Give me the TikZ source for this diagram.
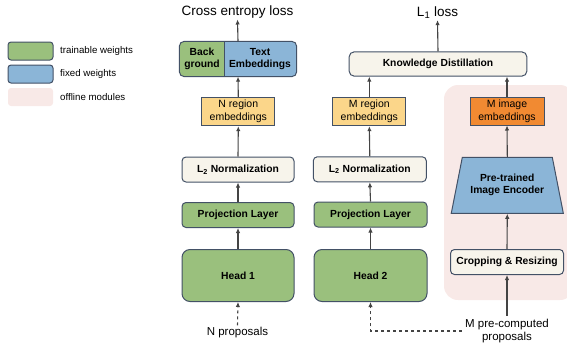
\documentclass[tikz,border=0pt]{standalone}
\usepackage{fontspec}
\setmainfont{Liberation Sans}
\usetikzlibrary{arrows.meta,shapes.geometric,fit,backgrounds}

\definecolor{traingreen}{HTML}{9AC07D}
\definecolor{fixedblue}{HTML}{8BB5D7}
\definecolor{offpink}{HTML}{F8E9E7}
\definecolor{embyellow}{HTML}{FBD68A}
\definecolor{imgorange}{HTML}{F18A32}
\definecolor{normcream}{HTML}{F7F4EB}
\definecolor{edgegray}{HTML}{435166}
\definecolor{linegray}{HTML}{444444}

\begin{document}
\begin{tikzpicture}[x=1pt,y=-1pt,
        box/.style={draw=edgegray, line width=1pt, align=center, inner sep=1pt,
            font=\fontsize{10.3}{12}\selectfont\bfseries},
        embbox/.style={box, minimum width=73pt, minimum height=28.4pt,
            font=\fontsize{10.5}{13}\selectfont},
        arr/.style={-{Latex[length=5pt,width=4.5pt]}, draw=linegray, line width=1.1pt},
        losstext/.style={font=\fontsize{13.5}{15}\selectfont, inner sep=1pt},
        proptext/.style={font=\fontsize{11.5}{13}\selectfont, align=center, inner sep=2pt},
        legtext/.style={font=\fontsize{9.7}{11}\selectfont, anchor=west, inner sep=0pt}]
    \useasboundingbox (0,0) rectangle (567,343);

    % leyenda
    \node[box, fill=traingreen, rounded corners=3pt, minimum width=45pt, minimum height=18pt] (legtrain) at (30.5,51) {};
    \node[box, fill=fixedblue, rounded corners=3pt, minimum width=45pt, minimum height=18pt] (legfixed) at (30.5,74) {};
    \node[fill=offpink, rounded corners=3pt, minimum width=45pt, minimum height=18pt] (legoff) at (30.5,97) {};
    \node[legtext] (legtraintxt) at (60,51) {trainable weights};
    \node[legtext] (legfixedtxt) at (60,74) {fixed weights};
    \node[legtext] (legofftxt) at (60,97) {offline modules};

    % zona offline
    \begin{scope}[on background layer]
        \fill[offpink, rounded corners=14pt] (444,85) rectangle (574,300);
    \end{scope}

    % rama 1
    \node[losstext] (celoss) at (237.5,12) {Cross entropy loss};
    \node[box, draw=none, minimum width=44pt, minimum height=34pt] (bg) at (202,59) {Back\\ground};
    \node[box, draw=none, minimum width=72pt, minimum height=34pt] (te) at (260,59) {Text\\Embeddings};
    \node[fit=(bg)(te), inner sep=0pt] (cls) {};
    \begin{scope}[on background layer]
        \clip[rounded corners=5pt] (cls.north west) rectangle (cls.south east);
        \fill[traingreen] (bg.north west) rectangle (bg.south east);
        \fill[fixedblue] (te.north west) rectangle (te.south east);
    \end{scope}
    \draw[edgegray, line width=1pt, rounded corners=5pt] (cls.north west) rectangle (cls.south east);
    \draw[edgegray, line width=1pt] (bg.north east) -- (bg.south east);

    \node[embbox, fill=embyellow] (nreg) at (238.3,111.5) {N region\\embeddings};
    \node[box, fill=normcream, rounded corners=4pt, minimum width=112pt, minimum height=25pt] (norm1) at (238,169.5) {L\textsubscript{2} Normalization};
    \node[box, fill=traingreen, rounded corners=4pt, minimum width=112pt, minimum height=25pt] (proj1) at (238,215) {Projection Layer};
    \node[box, fill=traingreen, rounded corners=8pt, minimum width=112pt, minimum height=52pt] (head1) at (238,275.5) {Head 1};
    \node[proptext] (nprop) at (237.5,333) {N proposals};

    \draw[arr] (cls.north) -- (celoss.south);
    \draw[arr] (nreg.north) -- (cls.south);
    \draw[arr] (norm1.north) -- (nreg.south);
    \draw[arr] (proj1.north) -- (norm1.south);
    \draw[arr] (head1.north) -- (proj1.south);
    \draw[arr, dashed] (nprop.north) -- (head1.south);

    % rama 2
    \node[losstext] (lloss) at (437.5,13) {L\textsubscript{1} loss};
    \node[box, fill=normcream, rounded corners=5pt, minimum width=177.7pt, minimum height=24.3pt] (kd) at (438,64) {Knowledge Distillation};
    \node[embbox, fill=embyellow] (mreg) at (369.3,111.5) {M region\\embeddings};
    \node[box, fill=normcream, rounded corners=4pt, minimum width=113pt, minimum height=25pt] (norm2) at (369.8,169.3) {L\textsubscript{2} Normalization};
    \node[box, fill=traingreen, rounded corners=4pt, minimum width=113pt, minimum height=25pt] (proj2) at (370.5,214.5) {Projection Layer};
    \node[box, fill=traingreen, rounded corners=8pt, minimum width=113pt, minimum height=52pt] (head2) at (370.5,275.5) {Head 2};

    \draw[arr] (kd.north) -- (lloss.south);
    \draw[arr] (mreg.north) -- (mreg.north |- kd.south);
    \draw[arr] (norm2.north) -- (mreg.south);
    \draw[arr] (proj2.north) -- (norm2.south);
    \draw[arr] (head2.north) -- (proj2.south);

    % modulos offline
    \node[embbox, fill=imgorange, minimum width=74pt, minimum height=28pt] (mimg) at (507,111) {M image\\embeddings};
    \node[box, fill=fixedblue, trapezium, trapezium stretches=true, trapezium left angle=68.5,
        trapezium right angle=68.5, minimum width=113pt, minimum height=56pt] (enc) at (507.3,185.3) {Pre-trained\\Image Encoder};
    \node[box, fill=normcream, rounded corners=4pt, minimum width=113pt, minimum height=25pt] (crop) at (507,262) {Cropping \& Resizing};
    \node[proptext, inner sep=3pt] (mprop) at (507,331) {M pre-computed\\proposals};

    \draw[arr] (mimg.north) -- (mimg.north |- kd.south);
    \draw[arr] (enc.north) -- (mimg.south);
    \draw[arr] (crop.north) -- (enc.south);
    \draw[arr] (mprop.north) -- (crop.south);
    \draw[arr, dashed] (mprop.west) -| (head2.south);
\end{tikzpicture}
\end{document}
